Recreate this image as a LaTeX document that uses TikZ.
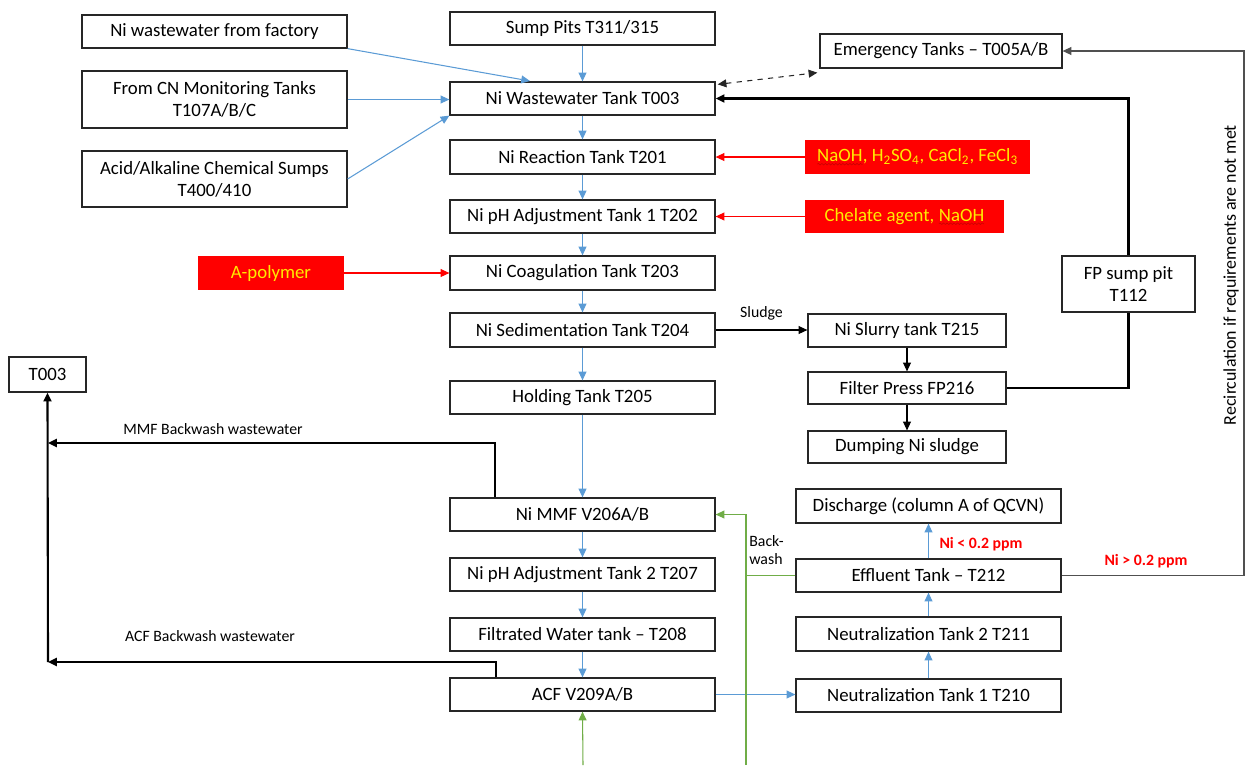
\documentclass[tikz,border=0pt]{standalone}
\usepackage{fontspec}
\setmainfont{Carlito}
\usetikzlibrary{arrows.meta,calc,backgrounds,decorations.pathmorphing}

\definecolor{flowblue}{RGB}{91,155,213}
\definecolor{flowgreen}{RGB}{112,173,71}
\definecolor{chemred}{RGB}{255,0,0}
\definecolor{chemyellow}{RGB}{255,235,0}
\definecolor{edge}{RGB}{38,38,38}
\definecolor{recirc}{RGB}{80,80,80}

% box placed by its corners (pixel units, y pointing down)
\newcommand{\bx}[7]{\node[#6, minimum width={(#4-#2)*0.02cm}, minimum height={(#5-#3)*0.02cm}] (#1) at ({(#2+#4)/2},{(#3+#5)/2}) {#7};}
% wavy spell-check underline
\newcommand{\squig}[1]{\tikz[baseline=(w.base),x=1cm,y=1cm]{\node[inner sep=0pt,outer sep=0pt,minimum width=0pt,minimum height=0pt,fill=none,draw=none,anchor=base] (w) {#1};\draw[chemred!80!black,line width=0.35pt,decorate,decoration={snake,amplitude=0.45pt,segment length=2pt}] ([yshift=-1.4pt]w.base west) -- ([yshift=-1.4pt]w.base east);}}

\begin{document}
\begin{tikzpicture}[x=0.02cm, y=-0.02cm,
  box/.style={draw=edge, line width=0.7pt, fill=white, inner sep=0pt, align=center,
    font=\fontsize{10.7}{12.4}\selectfont},
  chembox/.style={fill=chemred, inner sep=0pt, align=center, text=chemyellow,
    font=\fontsize{10.7}{12.4}\selectfont},
  tip/.style={-{Triangle[length=5pt,width=4.5pt]}},
  bluearrow/.style={tip, draw=flowblue, line width=0.6pt},
  redarrow/.style={tip, draw=chemred, line width=0.6pt},
  greenline/.style={draw=flowgreen, line width=0.6pt},
  blackarrow/.style={tip, draw=black, line width=0.6pt},
  backline/.style={draw=black, line width=1.2pt},
  smalltext/.style={font=\fontsize{9}{10.5}\selectfont, inner sep=0pt},
  warntext/.style={font=\bfseries\fontsize{9}{10.5}\selectfont, text=chemred, inner sep=0pt}
]
\useasboundingbox (0,0) rectangle (1246,765);

% ---- inflow sources
\bx{fac}{82}{15}{347}{48}{box}{Ni wastewater from factory}
\bx{cn}{82}{71}{347}{128}{box}{From CN Monitoring Tanks\\T107A/B/C}
\bx{acid}{82}{151}{347}{207}{box}{Acid/Alkaline Chemical Sumps\\T400/410}

% ---- main treatment train
\bx{sump}{450}{12}{715}{45}{box}{Sump Pits T311/315}
\bx{tank}{450}{82}{715}{115}{box}{Ni Wastewater Tank T003}
\bx{rxn}{450}{140}{715}{174}{box}{Ni Reaction Tank T201}
\bx{ph1}{450}{200}{715}{233}{box}{Ni pH Adjustment Tank 1 T202}
\bx{coag}{450}{256}{715}{290}{box}{Ni Coagulation Tank T203}
\bx{sed}{450}{313}{715}{347}{box}{Ni Sedimentation Tank T204}
\bx{hold}{450}{381}{715}{414}{box}{Holding Tank T205}
\bx{mmf}{450}{498}{715}{531}{box}{Ni MMF V206A/B}
\bx{ph2}{450}{558}{715}{591}{box}{Ni pH Adjustment Tank 2 T207}
\bx{filt}{450}{618}{715}{651}{box}{Filtrated Water tank -- T208}
\bx{acf}{450}{678}{715}{711}{box}{ACF V209A/B}

% ---- chemical dosing
\bx{chemA}{805}{140}{1030}{174}{chembox}{\squig{NaOH}, H\textsubscript{2}SO\textsubscript{4}, CaCl\textsubscript{2}, FeCl\textsubscript{3}}
\bx{chemB}{805}{200}{1004}{233}{chembox}{Chelate agent, \squig{NaOH}}
\bx{poly}{198}{256}{344}{290}{chembox}{A-polymer}

% ---- sludge line
\bx{emerg}{820}{34}{1062}{68}{box}{Emergency Tanks -- T005A/B}
\bx{slurry}{808}{314}{1006}{347}{box}{Ni Slurry tank T215}
\bx{press}{808}{372}{1006}{404}{box}{Filter Press FP216}
\bx{dump}{808}{431}{1006}{463}{box}{Dumping Ni sludge}
\bx{fps}{1062}{256}{1195}{312}{box}{FP sump pit\\T112}

% ---- final treatment
\bx{dis}{796}{489}{1061}{523}{box}{Discharge (column A of QCVN)}
\bx{eff}{796}{559}{1061}{592}{box}{Effluent Tank -- T212}
\bx{neu2}{796}{617}{1061}{651}{box}{Neutralization Tank 2 T211}
\bx{neu1}{796}{679}{1061}{712}{box}{Neutralization Tank 1 T210}

\bx{back}{9}{357}{86}{392}{box}{T003}

% ---- inflows to T003
\coordinate (facIn) at (530,81);
\draw[bluearrow] (fac.south east) -- (facIn);
\draw[bluearrow] (cn.east) -- (cn.east -| tank.west);
\draw[bluearrow] (acid.east) -- (tank.south west);

% ---- main train arrows
\foreach \a/\b in {sump/tank, tank/rxn, rxn/ph1, ph1/coag, coag/sed, sed/hold, hold/mmf, mmf/ph2, ph2/filt, filt/acf}
  \draw[bluearrow] (\a.south) -- (\b.north);

% ---- dosing arrows
\draw[redarrow] (chemA.west) -- (chemA.west -| rxn.east);
\draw[redarrow] (chemB.west) -- (chemB.west -| ph1.east);
\draw[redarrow] (poly.east) -- (poly.east -| coag.west);

% ---- emergency tanks exchange
\draw[{Triangle[length=5pt,width=4.5pt]}-{Triangle[length=5pt,width=4.5pt]}, dashed, draw=edge, line width=0.6pt]
  ($(tank.north east)+(2,3)$) -- ($(emerg.south west)+(-2,4)$);

% ---- sludge handling
\draw[blackarrow] (sed.east) -- node[smalltext, above=5pt] {Sludge} (sed.east -| slurry.west);
\draw[blackarrow] (slurry.south) -- (press.north);
\draw[blackarrow] (press.south) -- (dump.north);
\begin{scope}[on background layer]
  \draw[backline, -{Triangle[length=5pt,width=4.5pt]}]
    (press.east) -- (press.east -| fps.center) -- (tank.east -| fps.center) -- (tank.east);
\end{scope}

% ---- neutralisation and discharge
\draw[bluearrow] (acf.east) -- (acf.east -| neu1.west);
\draw[bluearrow] (neu1.north) -- (neu2.south);
\draw[bluearrow] (neu2.north) -- (eff.south);
\draw[bluearrow] (eff.north) -- (dis.south);
\node[warntext] (lowni) at (981,544) {Ni < 0.2 ppm};

% ---- recirculation when limits are exceeded
\coordinate (rcBot) at (1244,577);
\coordinate (rcTop) at (1244,51);
\draw[draw=recirc, line width=0.6pt, -{Triangle[length=5pt,width=4.5pt]}]
  (eff.east) -- (eff.east -| rcBot) -- (emerg.east -| rcTop) -- (emerg.east);
\node[warntext] (highni) at (1146,561) {Ni > 0.2 ppm};
\node[smalltext, font=\fontsize{10.2}{12}\selectfont, rotate=90] (rclabel) at (1231,275) {Recirculation if requirements are not met};

% ---- backwash water supply
\coordinate (bwBase) at (746,765);
\coordinate (acfBase) at (583,765);
\draw[greenline, -{Triangle[length=5pt,width=4.5pt]}] (bwBase) |- (mmf.east);
\draw[greenline] (eff.west) -- (eff.west -| bwBase);
\draw[greenline, -{Triangle[length=5pt,width=4.5pt]}] (acfBase) -- (acf.south);
\node[smalltext, align=left, anchor=north west] (bwlabel) at (749,535) {Back-\\wash};

% ---- backwash wastewater return
\coordinate (mmfTap) at ($(mmf.north west)+(46,0)$);
\coordinate (acfTap) at ($(acf.north west)+(47,0)$);
\coordinate (mmfJoin) at (48,443);
\coordinate (acfJoin) at (48,662);
\draw[backline, -{Triangle[length=5pt,width=4.5pt]}] (mmfTap) |- (mmfJoin);
\draw[backline, -{Triangle[length=5pt,width=4.5pt]}] (acfTap) |- (acfJoin);
\draw[backline, -{Triangle[length=5pt,width=4.5pt]}] (acfJoin) -- (back.south);
\node[smalltext] (mmflabel) at (213,429) {MMF Backwash wastewater};
\node[smalltext] (acflabel) at (210,636) {ACF Backwash wastewater};

\end{tikzpicture}
\end{document}
